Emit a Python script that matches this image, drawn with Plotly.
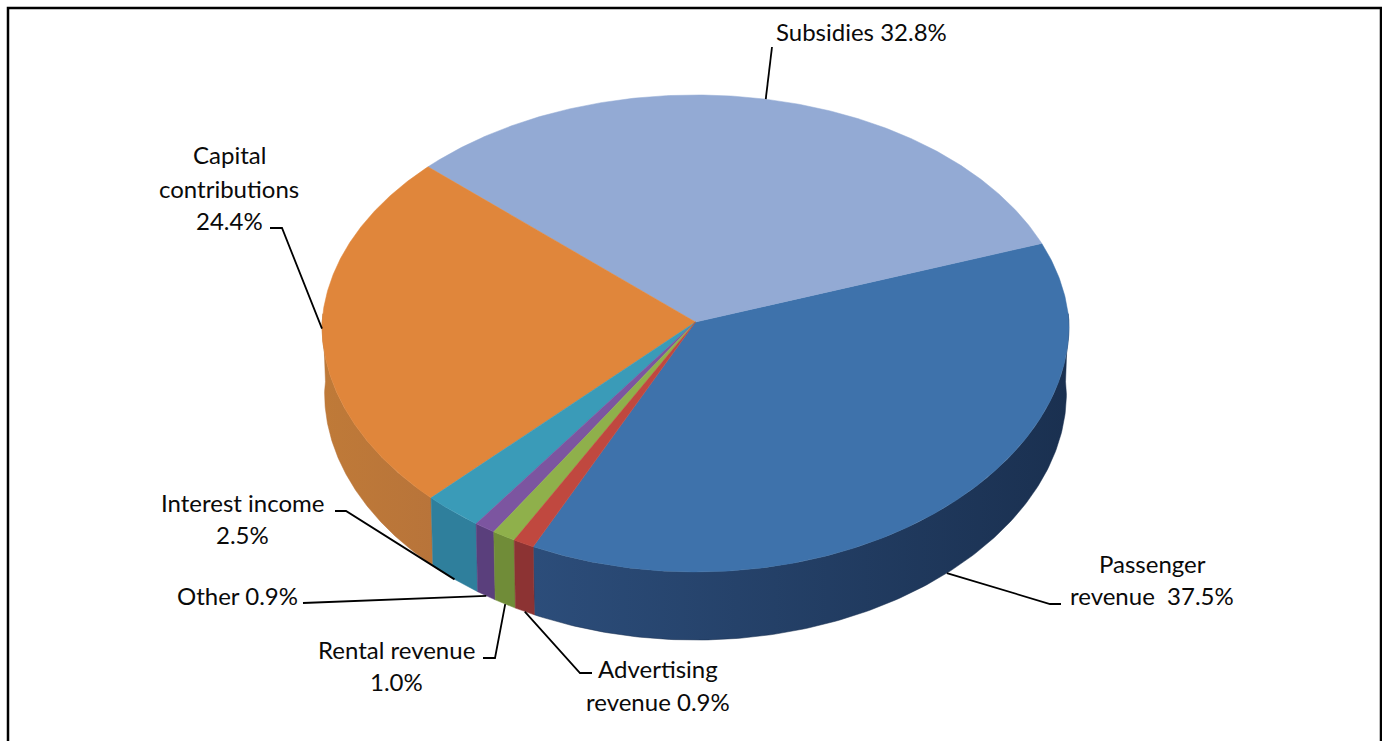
import numpy as np
import plotly.graph_objects as go

# Revenue shares, listed counter-clockwise starting from the advertising / passenger edge
categories = ["Passenger revenue", "Subsidies", "Capital contributions",
              "Interest income", "Other", "Rental revenue", "Advertising revenue"]
shares = [37.5, 32.8, 24.4, 2.5, 0.9, 1.0, 0.9]
top_colors = ["#3e72ab", "#93aad4", "#e0863b", "#3a9bb8", "#7c55a0", "#8fb04b", "#c0483f"]
wall_colors = [["#2c4d7a", "#1a3050"], ["#6f86ad", "#6f86ad"], ["#bf7a38", "#b8743a"],
               ["#2f7f9c", "#2f7f9c"], ["#5a3f7c", "#5a3f7c"], ["#708c38", "#708c38"],
               ["#8c3333", "#8c3333"]]

# Disc projection, in plot units
START_DEG = 244.6
CX, CY = 695.5, 322.0
RX, RY = 373.5, 238.0
TILT = 0.0482
DEPTH = 68.0
WALL_SHRINK = 0.993


def project(theta_deg, lowered=False):
    t = np.radians(theta_deg)
    u, v = np.cos(t), np.sin(t)
    w = 1 + TILT * v
    wx = 1 + TILT * np.where(v > 0, v, 0.3 * v)
    x = RX * u / wx
    y = -RY * v / w
    if lowered:
        return CX + x * WALL_SHRINK, CY + y + DEPTH
    return CX + x, CY + y


edges = START_DEG + np.concatenate([[0], np.cumsum(shares)]) * 3.6
mids = (edges[:-1] + edges[1:]) / 2

fig = go.Figure()

# Outer wall: only the part of the rim that faces the viewer
for name, a, b, colors in zip(categories, edges[:-1], edges[1:], wall_colors):
    ranges = [(a, b), (a - 360, b - 360)]
    for lo, hi in ranges:
        lo, hi = max(lo, 178.0), min(hi, 362.0)
        if hi <= lo:
            continue
        t = np.linspace(lo, hi, 160)
        x0, y0 = project(t)
        x1, y1 = project(t[::-1], lowered=True)
        fig.add_trace(go.Scatter(
            x=np.r_[x0, x1, x0[:1]], y=np.r_[y0, y1, y0[:1]], mode="lines", fill="toself",
            line=dict(width=0.5, color=colors[1]), hoverinfo="skip", showlegend=False,
            fillgradient=dict(type="horizontal",
                              colorscale=[[0, colors[0]], [1, colors[1]]])))

# Top face of every slice
for name, a, b, color in zip(categories, edges[:-1], edges[1:], top_colors):
    t = np.linspace(a, b, 240)
    x, y = project(t)
    fig.add_trace(go.Scatter(
        x=np.r_[CX, x, CX], y=np.r_[CY, y, CY], mode="lines", fill="toself", fillcolor=color,
        line=dict(width=0.5, color=color), name=name, hoverinfo="name", showlegend=False))

# Label text, one entry per line: text, centre x, centre y
label_lines = [
    ("Passenger", 1152, 563.5), ("revenue  37.5%", 1152, 595.5),
    ("Subsidies 32.8%", 861, 31.5),
    ("Capital", 229, 154.5), ("contributions", 229, 188.5), ("24.4%", 229, 220.5),
    ("Interest income", 242, 502.5), ("2.5%", 242, 534.5),
    ("Other 0.9%", 237, 595.5),
    ("Rental revenue", 396, 649.5), ("1.0%", 396, 681.5),
    ("Advertising", 658, 668.5), ("revenue 0.9%", 658, 701.5),
]
for text, x, y in label_lines:
    fig.add_annotation(x=x, y=y, text=text, showarrow=False, xanchor="center", yanchor="middle",
                       font=dict(family="Lato", size=24, color="#0a0a0a"))

# Leader lines run from the slice rim (at its mid-angle) to an elbow beside the label
leader_paths = [
    (0, True, [(1050, 604), (1061, 604)]),
    (1, False, [(772, 47)]),
    (2, False, [(282, 228), (270, 228)]),
    (3, True, [(346, 511), (335, 511)]),
    (4, True, [(303, 603)]),
    (5, True, [(495, 658), (483, 658)]),
    (6, True, [(580, 673), (592, 673)]),
]
for idx, lowered, tail in leader_paths:
    ax, ay = project(mids[idx], lowered=lowered)
    fig.add_trace(go.Scatter(
        x=[float(ax)] + [p[0] for p in tail], y=[float(ay)] + [p[1] for p in tail],
        mode="lines", line=dict(color="#000000", width=1.8), hoverinfo="skip", showlegend=False))

# Frame around the chart area
fig.add_shape(type="path", path="M 8 741 L 8 8 L 1381 8 L 1381 741",
              line=dict(color="#000000", width=2.5), layer="above")

fig.update_layout(
    width=1382, height=741, margin=dict(l=0, r=0, t=0, b=0),
    paper_bgcolor="#ffffff", plot_bgcolor="#ffffff", showlegend=False,
    xaxis=dict(range=[0, 1382], visible=False, fixedrange=True),
    yaxis=dict(range=[741, 0], visible=False, fixedrange=True),
)

fig.write_html("out.html", config={"displayModeBar": False})
